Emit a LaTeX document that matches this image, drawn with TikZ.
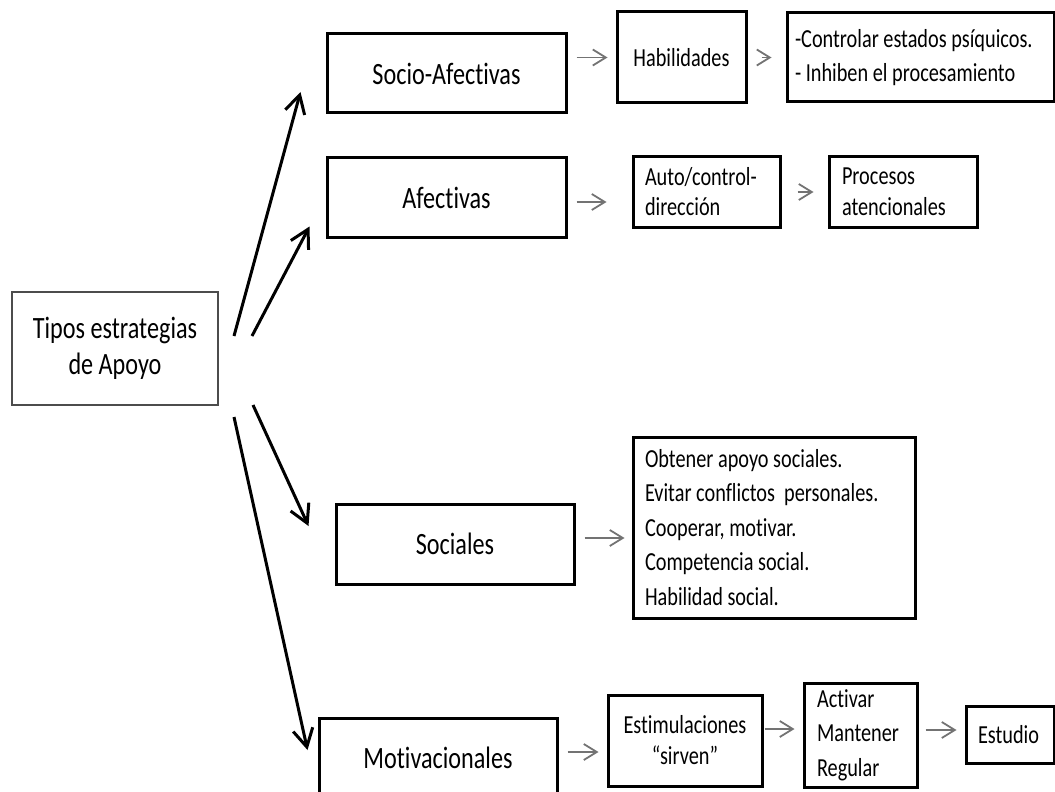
\documentclass[tikz,border=0pt]{standalone}
\usepackage{fontspec}
\setmainfont{Carlito}[FakeStretch=0.78, Ligatures=CommonOff]
\usetikzlibrary{arrows.meta}

\begin{document}
\begin{tikzpicture}[
  x=0.5pt, y=-0.5pt,
  big/.style  ={draw, line width=1.5pt, font=\fontsize{15.5}{18}\selectfont,
                minimum width=119.5pt, minimum height=39.5pt, inner sep=0pt},
  small/.style={draw, line width=1.5pt, font=\fontsize{13}{17}\selectfont, inner sep=0pt},
  lft/.style  ={small, align=flush left},
  push/.style ={-{Straight Barb[length=9pt,width=10pt]}, line width=1.5pt},
  lead/.style ={-{Straight Barb[length=6.5pt,width=8pt]}, line width=0.9pt, draw=black!55}]
  \useasboundingbox (0,0) rectangle (1055,792);
  \clip (0,0) rectangle (1055,792);
  % root
  \node[big, line width=1pt, draw=black!70, align=flush center, minimum width=103pt,
        minimum height=56.5pt] (tipos) at (115,348.5) {Tipos estrategias\\de Apoyo};
  % kinds
  \node[big] (socio) at (446.5,73.5)  {Socio-Afectivas};
  \node[big] (afect) at (446.5,197.5) {Afectivas};
  \node[big, minimum width=119pt, minimum height=40pt] (soc)   at (455,544) {Sociales};
  \node[big, minimum width=119pt, minimum height=40pt] (motiv) at (438,758) {Motivacionales};
  % details
  \node[small, minimum width=64.5pt, minimum height=45.5pt] (hab) at (681.5,57.5) {Habilidades};
  \node[lft, inner xsep=4pt, text width=125.5pt, minimum height=44.5pt] (ctrl) at (920.5,57.5)
       {-Controlar estados psíquicos.\\- Inhiben el procesamiento};
  \node[lft, inner xsep=6pt, text width=61.5pt, minimum height=35pt,
        font=\fontsize{13}{15}\selectfont] (auto) at (706.5,192) {Auto/control-\\dirección};
  \node[lft, inner xsep=6.5pt, text width=61pt, minimum height=35pt,
        font=\fontsize{13}{15.5}\selectfont] (proc) at (903,192) {Procesos\\atencionales};
  \node[lft, inner xsep=6pt, text width=129pt, minimum height=90.5pt,
        font=\fontsize{13}{17.25}\selectfont] (list) at (774,527.5)
       {Obtener apoyo sociales.\\Evitar conflictos\ \ personales.\\Cooperar, motivar.\\Competencia social.\\Habilidad social.};
  \node[small, align=flush center, minimum width=77pt, minimum height=45.5pt,
        font=\fontsize{13}{15.5}\selectfont] (estim) at (685,740.5) {Estimulaciones\\“sirven”};
  \node[lft, inner xsep=6.5pt, text width=43.5pt, minimum height=52pt,
        font=\fontsize{13}{17.25}\selectfont] (activ) at (860.5,735) {Activar\\Mantener\\Regular};
  \node[lft, inner xsep=6pt, text width=32pt, minimum height=28.5pt] (estudio) at (1010,734.5) {Estudio};
  % black arrows from the root
  \draw[push] ([shift={(15,45)}]tipos.north east) -- ([shift={(-25,18.5)}]socio.west);
  \draw[push] ([shift={(33,45)}]tipos.north east) -- ([shift={(-16,-12)}]afect.south west);
  \draw[push] ([shift={(34,-1)}]tipos.south east) -- ([shift={(-26,-18)}]soc.west);
  \draw[push] ([shift={(15,11)}]tipos.south east) -- ([shift={(-10,-8)}]motiv.west);
  % grey arrows
  \draw[lead] ([shift={(9,-16)}]socio.east) -- ([xshift=-4]hab.west);
  \draw[lead] ([xshift=7]hab.east) -- ([xshift=-7]ctrl.west);
  \draw[lead] ([shift={(9,4.5)}]afect.east) -- ([shift={(-25,10)}]auto.west);
  \draw[lead] ([xshift=8]auto.east) -- ([xshift=-7]proc.west);
  \draw[lead] ([shift={(9,-6)}]soc.east) -- ([shift={(-7,10.5)}]list.west);
  \draw[lead] ([shift={(9,-6)}]motiv.east) -- ([shift={(-8,11.5)}]estim.west);
  \draw[lead] ([shift={(1,-11.5)}]estim.east) -- ([shift={(-8,-6)}]activ.west);
  \draw[lead] ([shift={(7,-5)}]activ.east) -- ([shift={(-8,-4.5)}]estudio.west);
\end{tikzpicture}
\end{document}
